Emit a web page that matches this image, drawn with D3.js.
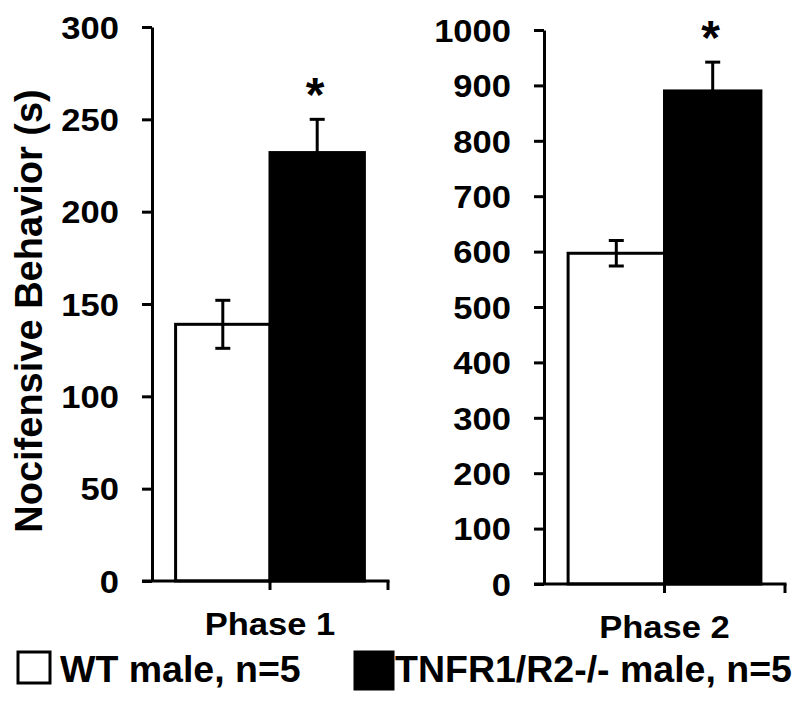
<!DOCTYPE html>
<html>
<head>
<meta charset="utf-8">
<script src="https://cdn.jsdelivr.net/npm/d3@7"></script>
<style>
  html, body { margin: 0; padding: 0; background: #fff; }
  svg { display: block; }
  text { font-family: "Liberation Sans", Arial, Helvetica, sans-serif; font-weight: bold; fill: #000; }
</style>
</head>
<body>
<svg id="chart" width="800" height="704"></svg>
<script>
// ---- data ----
const phases = ["Phase 1", "Phase 2"];
const groups = ["WT male, n=5", "TNFR1/R2-/- male, n=5"];
const groupColors = ["#ffffff", "#000000"];
const wtMeans = [139, 597];
const wtErr = [13, 23];
const koMeans = [232, 890];
const koErr = [18, 52];
const yMax = [300, 1000];
const yTickStep = [50, 100];
const significant = [true, true];
const yTitle = "Nocifensive Behavior (s)";

// ---- layout ----
const svg = d3.select("#chart");
const panels = [
  { x0: 152, x1: 388, yTop: 27, yBot: 581 },
  { x0: 544, x1: 785, yTop: 30, yBot: 584 }
];
const SW = 3;
const stretch = 1.08;
const labelSize = 32;

phases.forEach((phase, i) => {
  const p = panels[i];
  const g = svg.append("g");
  const y = d3.scaleLinear().domain([0, yMax[i]]).range([p.yBot, p.yTop]);
  const x = d3.scaleBand().domain(groups).range([p.x0, p.x1]).paddingInner(0).paddingOuter(0.25);

  const means = [wtMeans[i], koMeans[i]];
  const errs = [wtErr[i], koErr[i]];

  // bars
  g.selectAll("rect.bar").data(groups).join("rect")
    .attr("class", "bar")
    .attr("x", d => x(d))
    .attr("width", x.bandwidth())
    .attr("y", (d, j) => y(means[j]))
    .attr("height", (d, j) => y(0) - y(means[j]))
    .attr("fill", (d, j) => groupColors[j])
    .attr("stroke", "#000")
    .attr("stroke-width", SW);

  // error bars
  groups.forEach((grp, j) => {
    const cx = x(grp) + x.bandwidth() / 2;
    const hi = y(means[j] + errs[j]);
    const lo = y(means[j] - errs[j]);
    g.append("line").attr("x1", cx).attr("x2", cx).attr("y1", hi).attr("y2", lo)
      .attr("stroke", "#000").attr("stroke-width", SW);
    g.append("line").attr("x1", cx - 7.5).attr("x2", cx + 7.5).attr("y1", hi).attr("y2", hi)
      .attr("stroke", "#000").attr("stroke-width", SW);
    if (j === 0) {
      g.append("line").attr("x1", cx - 7.5).attr("x2", cx + 7.5).attr("y1", lo).attr("y2", lo)
        .attr("stroke", "#000").attr("stroke-width", SW);
    }
    if (j === 1 && significant[i]) {
      g.append("text")
        .attr("x", cx - 2)
        .attr("y", hi - 8)
        .attr("text-anchor", "middle")
        .attr("font-size", 48)
        .text("*");
    }
  });

  // y axis
  const ax = d3.axisLeft(y)
    .tickValues(d3.range(0, yMax[i] + 1, yTickStep[i]))
    .tickSize(10)
    .tickSizeOuter(0)
    .tickFormat(d3.format("d"));
  const axG = g.append("g").attr("transform", `translate(${p.x0},0)`).call(ax);
  axG.select(".domain").attr("stroke", "#000").attr("stroke-width", SW);
  axG.selectAll(".tick line").attr("stroke", "#000").attr("stroke-width", SW);
  axG.selectAll(".tick text")
    .attr("x", 0)
    .attr("dy", "0.35em")
    .attr("transform", `translate(-33,0) scale(${stretch},1)`)
    .attr("font-size", labelSize)
    .attr("font-family", '"Liberation Sans", Arial, sans-serif')
    .attr("font-weight", "bold")
    .attr("fill", "#000");

  // x baseline and ticks
  g.append("line").attr("x1", p.x0 - 10).attr("x2", p.x1 + 1.5).attr("y1", y(0)).attr("y2", y(0))
    .attr("stroke", "#000").attr("stroke-width", SW);
  [x(groups[1]), p.x1].forEach(tx => {
    g.append("line").attr("x1", tx).attr("x2", tx).attr("y1", y(0)).attr("y2", y(0) + 9)
      .attr("stroke", "#000").attr("stroke-width", SW);
  });

  // phase label
  g.append("text")
    .attr("transform", `translate(${x(groups[1])},${y(0) + 54}) scale(${stretch},1)`)
    .attr("text-anchor", "middle")
    .attr("font-size", labelSize)
    .text(phase);
});

// y title
svg.append("text")
  .attr("transform", "translate(42,311) rotate(-90)")
  .attr("text-anchor", "middle")
  .attr("font-size", 38)
  .text(yTitle);

// legend
const legendItems = [
  { box: [18, 652, 32, 31], tx: 60 },
  { box: [355, 652, 38, 37], tx: 395 }
];
groups.forEach((grp, j) => {
  const L = legendItems[j];
  svg.append("rect")
    .attr("x", L.box[0]).attr("y", L.box[1]).attr("width", L.box[2]).attr("height", L.box[3])
    .attr("fill", groupColors[j]).attr("stroke", "#000").attr("stroke-width", SW);
  svg.append("text")
    .attr("x", L.tx).attr("y", 682)
    .attr("font-size", 37.5)
    .text(grp);
});
</script>
</body>
</html>
